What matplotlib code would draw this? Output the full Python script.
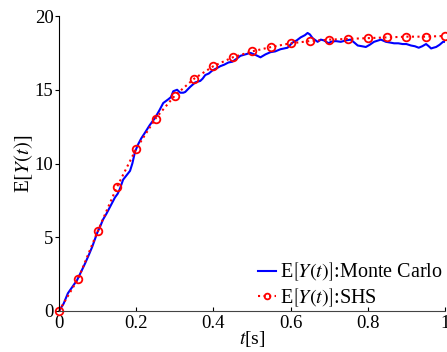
import matplotlib

matplotlib.use("Agg")

import matplotlib.pyplot as plt

plt.rcParams["font.family"] = ["Liberation Serif", "DejaVu Serif"]
plt.rcParams["mathtext.fontset"] = "stix"

# Monte Carlo estimate
mc_t = [
    0, 0.012, 0.023, 0.035, 0.047, 0.058, 0.068, 0.078, 0.086, 0.099,
    0.107, 0.114, 0.123, 0.132, 0.145, 0.152, 0.158, 0.166, 0.175, 0.184,
    0.19, 0.197, 0.205, 0.213, 0.223, 0.235, 0.249, 0.26, 0.27, 0.283,
    0.29, 0.296, 0.306, 0.314, 0.322, 0.327, 0.34, 0.353, 0.366, 0.372,
    0.379, 0.388, 0.397, 0.408, 0.418, 0.428, 0.439, 0.449, 0.46, 0.47,
    0.483, 0.496, 0.51, 0.522, 0.535, 0.548, 0.56, 0.574, 0.592, 0.605,
    0.616, 0.626, 0.637, 0.644, 0.65, 0.657, 0.67, 0.678, 0.686, 0.699,
    0.704, 0.717, 0.73, 0.744, 0.756, 0.765, 0.774, 0.785, 0.795, 0.805,
    0.816, 0.834, 0.847, 0.858, 0.868, 0.879, 0.89, 0.9, 0.912, 0.922,
    0.932, 0.941, 0.951, 0.958, 0.964, 0.97, 0.977, 0.986, 0.995, 1.0,
]
mc_y = [
    0, 0.5, 1.2, 1.65, 2.1, 2.7, 3.25, 3.85, 4.35, 5.3,
    5.75, 6.2, 6.6, 7.05, 7.7, 7.95, 8.3, 8.9, 9.2, 9.5,
    10.0, 10.8, 11.3, 11.7, 12.1, 12.6, 13.1, 13.6, 14.1, 14.35,
    14.5, 14.9, 15.0, 14.8, 14.8, 14.85, 15.2, 15.5, 15.6, 15.75,
    16.0, 16.1, 16.3, 16.45, 16.6, 16.7, 16.85, 16.9, 17.1, 17.3,
    17.4, 17.5, 17.35, 17.2, 17.4, 17.55, 17.6, 17.75, 17.85, 18.2,
    18.35, 18.55, 18.7, 18.85, 18.75, 18.5, 18.25, 18.4, 18.35, 18.15,
    18.25, 18.3, 18.25, 18.35, 18.4, 18.2, 18.0, 17.95, 17.9, 18.05,
    18.25, 18.4, 18.25, 18.2, 18.15, 18.15, 18.1, 18.1, 18.0, 17.95,
    17.85, 17.95, 18.1, 17.95, 17.8, 17.85, 17.9, 18.05, 18.25, 18.25,
]

# SHS moments
shs_t = [0, 0.05, 0.1, 0.15, 0.2, 0.25, 0.3, 0.35, 0.4, 0.45, 0.5,
         0.55, 0.6, 0.65, 0.7, 0.75, 0.8, 0.85, 0.9, 0.95, 1.0]
shs_y = [0, 2.2, 5.4, 8.4, 11.0, 13.05, 14.6, 15.75, 16.6, 17.2, 17.6,
         17.9, 18.15, 18.3, 18.4, 18.45, 18.5, 18.55, 18.6, 18.6, 18.65]

x_ticks = [0, 0.2, 0.4, 0.6, 0.8, 1]
x_tick_labels = ["0", "0.2", "0.4", "0.6", "0.8", "1"]
y_ticks = [0, 5, 10, 15, 20]

fig = plt.figure(figsize=(4.47, 3.52), dpi=100)
ax = fig.add_axes([0.132, 0.1165, 0.8635, 0.838])

ax.plot(mc_t, mc_y, color="#0000ff", linewidth=1.5,
        label=r"E$\left[Y(t)\right]$:Monte Carlo")
ax.plot(shs_t, shs_y, color="#ff0000", linestyle=":", linewidth=1.5,
        marker="o", markersize=5.5, markerfacecolor="none", markeredgewidth=1.3,
        clip_on=False, label=r"E$\left[Y(t)\right]$:SHS")

ax.set_xlim(0, 1)
ax.set_ylim(0, 20)
ax.set_xticks(x_ticks)
ax.set_xticklabels(x_tick_labels)
ax.set_yticks(y_ticks)
ax.tick_params(axis="x", direction="in", length=3, labelsize=13.5, pad=3)
ax.tick_params(axis="y", direction="out", length=3, labelsize=13.5, pad=1)

ax.spines["top"].set_visible(False)
ax.spines["right"].set_visible(False)
ax.spines["left"].set_linewidth(0.8)
ax.spines["bottom"].set_linewidth(0.8)
ax.spines["bottom"].set_color("#444444")

ax.set_xlabel(r"$t$[s]", fontsize=14, labelpad=-2)
ax.set_ylabel(r"E$\left[Y(t)\right]$", fontsize=15, labelpad=0)

ax.legend(loc="lower right", frameon=False, fontsize=14.5, handlelength=0.9,
          handletextpad=0.2, labelspacing=0.15, borderaxespad=0.0,
          borderpad=0.1, markerscale=0.75)

fig.savefig("out.png", dpi=100)
plt.close(fig)
